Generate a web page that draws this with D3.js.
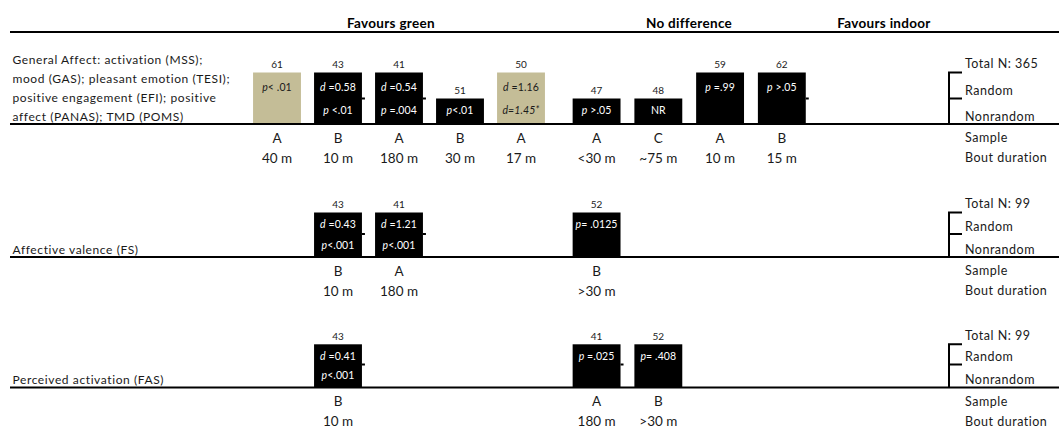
<!DOCTYPE html>
<html><head><meta charset="utf-8">
<script src="https://cdn.jsdelivr.net/npm/d3@7"></script>
<style>
html,body{margin:0;padding:0;background:#fff;}
svg{display:block;font-family:Lato,"DejaVu Sans",sans-serif;}
</style></head><body>
<svg id="chart" width="1059" height="428"></svg>
<script>
// ---------------- DATA ----------------
const groups = ["Favours green", "No difference", "Favours indoor"];
const slots = ["g1","g2","g3","g4","g5","n1","n2","n3","n4"];
const slotGroup = ["Favours green","Favours green","Favours green","Favours green","Favours green",
                   "No difference","No difference","No difference","No difference"];
const designs = ["Random", "Nonrandom"];
const metaLabels = ["Sample", "Bout duration"];

const outcomeLines = [
  ["General Affect: activation (MSS);", "mood (GAS); pleasant emotion (TESI);", "positive engagement (EFI);  positive", "affect (PANAS); TMD (POMS)"],
  ["Affective valence (FS)"],
  ["Perceived activation (FAS)"]
];
const totalN = [365, 99, 99];

// Row 1: General affect
const r1Slot   = ["g1","g2","g3","g4","g5","n1","n2","n3","n4"];
const r1N      = [61, 43, 41, 51, 50, 47, 48, 59, 62];
const r1Design = ["Random","Random","Random","Nonrandom","Random","Nonrandom","Nonrandom","Random","Random"];
const r1Sample = ["A","B","A","B","A","A","C","A","B"];
const r1Bout   = ["40 m","10 m","180 m","30 m","17 m","<30 m","~75 m","10 m","15 m"];
const r1Upper  = ["_p_< .01","_d_ =0.58","_d_ =0.54","","_d_ =1.16","","","_p_ =.99","_p_ >.05"];
const r1Lower  = ["","_p_ <.01","_p_ =.004","_p_<.01","_d=1.45*_","_p_ >.05","NR","",""];
const r1Tan    = [true,false,false,false,true,false,false,false,false];
const r1Tick   = [false,true,true,false,false,false,false,false,true];

// Row 2: Affective valence
const r2Slot   = ["g2","g3","n1"];
const r2N      = [43, 41, 52];
const r2Design = ["Random","Random","Random"];
const r2Sample = ["B","A","B"];
const r2Bout   = ["10 m","180 m",">30 m"];
const r2Upper  = ["_d_ =0.43","_d_ =1.21","_p_= .0125"];
const r2Lower  = ["_p_<.001","_p_<.001",""];
const r2Tan    = [false,false,false];
const r2Tick   = [true,true,false];

// Row 3: Perceived activation
const r3Slot   = ["g2","n1","n2"];
const r3N      = [43, 41, 52];
const r3Design = ["Random","Random","Random"];
const r3Sample = ["B","A","B"];
const r3Bout   = ["10 m","180 m",">30 m"];
const r3Upper  = ["_d_ =0.41","_p_ =.025","_p_= .408"];
const r3Lower  = ["_p_<.001","",""];
const r3Tan    = [false,false,false];
const r3Tick   = [true,true,false];

// ---------------- LAYOUT ----------------
const W = 1059, H = 428;
const lineX0 = 10, lineX1 = 1059;
const headerLineY = 32, headerTextY = 23.5;
const headerX = {"Favours green": 391, "No difference": 689, "Favours indoor": 884};
const groupRange = {"Favours green": [246.5, 551.5], "No difference": [566, 813]};
const barPad = 0.215;
const panels = [
  {top: 72.5, mid: 98.5, base: 124},
  {top: 212.5, mid: 234, base: 257},
  {top: 344.3, mid: 364.5, base: 387.5}
];
const bracketX = 949, bracketTickX = 962, rightTextX = 965, labelX = 12.5;
const tan = "#C4BD97", ink = "#000", txt = "#1a1a1a";

// ---------------- BUILD ----------------
function buildRow(slot, n, design, sample, bout, upper, lower, tanFlag, tick) {
  return slot.map((s, i) => ({slot: s, n: n[i], design: design[i], sample: sample[i], bout: bout[i],
    upper: upper[i], lower: lower[i], tan: tanFlag[i], tick: tick[i]}));
}
const rows = [
  buildRow(r1Slot, r1N, r1Design, r1Sample, r1Bout, r1Upper, r1Lower, r1Tan, r1Tick),
  buildRow(r2Slot, r2N, r2Design, r2Sample, r2Bout, r2Upper, r2Lower, r2Tan, r2Tick),
  buildRow(r3Slot, r3N, r3Design, r3Sample, r3Bout, r3Upper, r3Lower, r3Tan, r3Tick)
];

const xScales = {};
Object.keys(groupRange).forEach(g => {
  xScales[g] = d3.scaleBand()
    .domain(slots.filter((s, i) => slotGroup[i] === g))
    .range(groupRange[g]).paddingInner(barPad).paddingOuter(barPad / 2);
});
const groupOf = s => slotGroup[slots.indexOf(s)];
const xPos = s => xScales[groupOf(s)](s);
const bw = xScales["Favours green"].bandwidth();

function rich(sel, str) {
  const parts = str.split("_");
  parts.forEach((p, i) => {
    if (!p) return;
    sel.append("tspan").text(p).attr("font-style", i % 2 === 1 ? "italic" : "normal");
  });
}

const svg = d3.select("#chart");

// header
svg.append("line").attr("x1", lineX0).attr("x2", lineX1).attr("y1", headerLineY).attr("y2", headerLineY)
  .attr("stroke", ink).attr("stroke-width", 2);
svg.selectAll("text.hdr").data(groups).join("text").attr("class", "hdr")
  .attr("x", d => headerX[d]).attr("y", headerTextY).attr("dy", "0.35em")
  .attr("text-anchor", "middle").attr("font-weight", "bold").attr("font-size", 13.5)
  .attr("letter-spacing", 0.3).attr("fill", "#000").text(d => d);

rows.forEach((row, ri) => {
  const p = panels[ri];
  const y = d3.scaleOrdinal().domain(designs).range([p.top, p.mid]);
  const g = svg.append("g");

  // outcome label
  const lines = outcomeLines[ri];
  g.selectAll("text.lab").data(lines).join("text").attr("class", "lab")
    .attr("x", labelX)
    .attr("y", (d, i) => p.base - 7.5 - (lines.length - 1 - i) * 18.9)
    .attr("dy", "0.35em").attr("font-size", 12).attr("letter-spacing", 0.6)
    .attr("fill", txt).text(d => d);

  // bars
  g.selectAll("rect.bar").data(row).join("rect").attr("class", "bar")
    .attr("x", d => xPos(d.slot)).attr("width", bw)
    .attr("y", d => y(d.design)).attr("height", d => p.base - y(d.design))
    .attr("fill", d => d.tan ? tan : ink);

  // little ticks at mid level
  g.selectAll("line.tick").data(row.filter(d => d.tick)).join("line").attr("class", "tick")
    .attr("x1", d => xPos(d.slot) + bw).attr("x2", d => xPos(d.slot) + bw + 3)
    .attr("y1", p.mid).attr("y2", p.mid).attr("stroke", ink).attr("stroke-width", 2);

  // N above bars
  g.selectAll("text.n").data(row).join("text").attr("class", "n")
    .attr("x", d => xPos(d.slot) + bw / 2).attr("y", d => y(d.design) - 8).attr("dy", "0.35em")
    .attr("text-anchor", "middle").attr("font-size", 10).attr("fill", txt).text(d => d.n);

  // inside texts
  g.selectAll("text.up").data(row.filter(d => d.upper)).join("text").attr("class", "up")
    .attr("x", d => xPos(d.slot) + bw / 2).attr("y", (p.top + p.mid) / 2 + 1.5).attr("dy", "0.35em")
    .attr("text-anchor", "middle").attr("font-size", 10.5).attr("letter-spacing", 0.1)
    .attr("fill", d => d.tan ? txt : "#fff")
    .each(function(d) { rich(d3.select(this), d.upper); });
  g.selectAll("text.lo").data(row.filter(d => d.lower)).join("text").attr("class", "lo")
    .attr("x", d => xPos(d.slot) + bw / 2).attr("y", (p.mid + p.base) / 2 - 0.5).attr("dy", "0.35em")
    .attr("text-anchor", "middle").attr("font-size", 10.5).attr("letter-spacing", 0.1)
    .attr("fill", d => d.tan ? txt : "#fff")
    .each(function(d) { rich(d3.select(this), d.lower); });

  // baseline
  g.append("line").attr("x1", lineX0).attr("x2", lineX1).attr("y1", p.base).attr("y2", p.base)
    .attr("stroke", ink).attr("stroke-width", 2);

  // below: sample & bout
  g.selectAll("text.smp").data(row).join("text").attr("class", "smp")
    .attr("x", d => xPos(d.slot) + bw / 2).attr("y", p.base + 14).attr("dy", "0.35em")
    .attr("text-anchor", "middle").attr("font-size", 13.5).attr("fill", txt).text(d => d.sample);
  g.selectAll("text.bout").data(row).join("text").attr("class", "bout")
    .attr("x", d => xPos(d.slot) + bw / 2).attr("y", p.base + 34).attr("dy", "0.35em")
    .attr("text-anchor", "middle").attr("font-size", 13.5).attr("fill", txt).text(d => d.bout);

  // bracket
  g.append("path")
    .attr("d", `M${bracketTickX},${p.top}H${bracketX}V${p.base}M${bracketX},${p.mid}H${bracketTickX}`)
    .attr("fill", "none").attr("stroke", ink).attr("stroke-width", 2);

  // right labels
  const rightLabels = [
    {t: "Total N: " + totalN[ri], y: p.top - 8.5},
    {t: designs[0], y: y(designs[1]) - 7.5},
    {t: designs[1], y: p.base - 7.5},
    {t: metaLabels[0], y: p.base + 14},
    {t: metaLabels[1], y: p.base + 34}
  ];
  g.selectAll("text.rl").data(rightLabels).join("text").attr("class", "rl")
    .attr("x", rightTextX).attr("y", d => d.y).attr("dy", "0.35em")
    .attr("font-size", 12.5).attr("letter-spacing", 0.5).attr("fill", txt).text(d => d.t);
});
</script>
</body></html>
